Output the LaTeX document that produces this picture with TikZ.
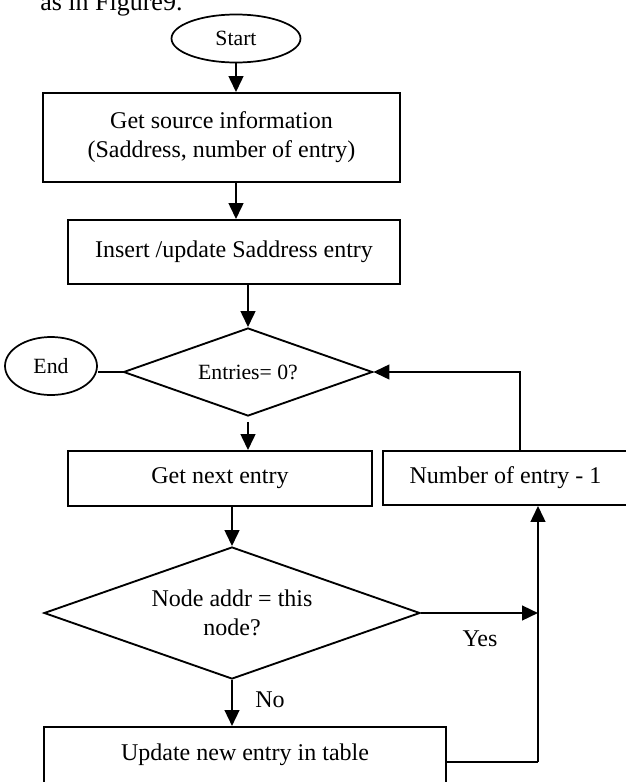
\documentclass[tikz,border=0pt]{standalone}
\usepackage{fontspec}
\setmainfont{Liberation Serif}
\usetikzlibrary{shapes.geometric,arrows.meta}
\newdimen\pxu \pxu=0.75pt
\newcommand\mainsz{\fontsize{18pt}{21.75pt}\selectfont}
\newcommand\smallsz{\fontsize{16.3pt}{19pt}\selectfont}
\begin{document}
\begin{tikzpicture}[x=0.75pt,y=-0.75pt,
  box/.style={draw,line width=1.4pt,rectangle,inner sep=0pt,align=center,font=\mainsz},
  oval/.style={draw,line width=1.3pt,ellipse,inner sep=0pt,font=\smallsz},
  dia/.style={draw,line width=1.4pt,diamond,inner sep=0pt,align=center,shape aspect=2.8},
  arr/.style={line width=1.8pt,-{Triangle[length=12pt,width=11pt]}},
  thinline/.style={line width=1.1pt},
  lbl/.style={inner sep=0pt,font=\mainsz}]
\useasboundingbox (0,0) rectangle (625,782);

\node[inner sep=0pt,anchor=base west,font=\fontsize{19.5pt}{23pt}\selectfont] (intro) at (40,10) {as in Figure9.};

\node[oval,minimum width=129\pxu,minimum height=48\pxu] (start) at (236,38.5) {Start};
\node[box,minimum width=357\pxu,minimum height=89\pxu] (src) at (221.5,137.5) {Get source information\\(Saddress, number of entry)};
\node[box,minimum width=332\pxu,minimum height=64\pxu] (ins) at (234,252) {Insert /update Saddress entry};
\node[dia,font=\smallsz,minimum width=249\pxu,minimum height=88\pxu] (d1) at (248,372) {Entries= 0?};
\node[oval,minimum width=92\pxu,minimum height=58\pxu] (end) at (51,366) {End};
\node[box,minimum width=304\pxu,minimum height=55\pxu] (next) at (220,478.5) {Get next entry};
\node[box,minimum width=245\pxu,minimum height=54\pxu] (dec) at (505.5,478) {Number of entry - 1};
\node[dia,font=\mainsz,minimum width=376\pxu,minimum height=132\pxu] (d2) at (232,613) {Node addr = this\\node?};
\node[box,anchor=north,minimum width=402\pxu,text height=26\pxu,text depth=48\pxu,inner ysep=8\pxu] (upd) at (245,726) {Update new entry in table};

\coordinate (j) at (538,613);
\coordinate (k) at (538,762);

\draw[arr] (start.south) -- (start.south |- src.north);
\draw[arr] (src.south -| start.south) -- (ins.north -| start.south);
\draw[arr] (ins.south -| d1.north) -- (d1.north);
\draw[arr] ([yshift=-5\pxu]d1.south) -- (d1.south |- next.north);
\draw[thinline] (d1.west) -- (d1.west -| end.east);
\draw[arr] ([xshift=14.5\pxu]dec.north) |- (d1.east);
\draw[arr] (d2.north |- next.south) -- (d2.north);
\draw[arr] (d2.east) -- (j);
\node[lbl] (yes) at (480,639) {Yes};
\draw[arr] (d2.south) -- (d2.south |- upd.north);
\node[lbl] (no) at (270,700) {No};
\draw[thinline] (upd.east |- k) -- (k);
\draw[arr] (k) -- (k |- dec.south);
\end{tikzpicture}
\end{document}
